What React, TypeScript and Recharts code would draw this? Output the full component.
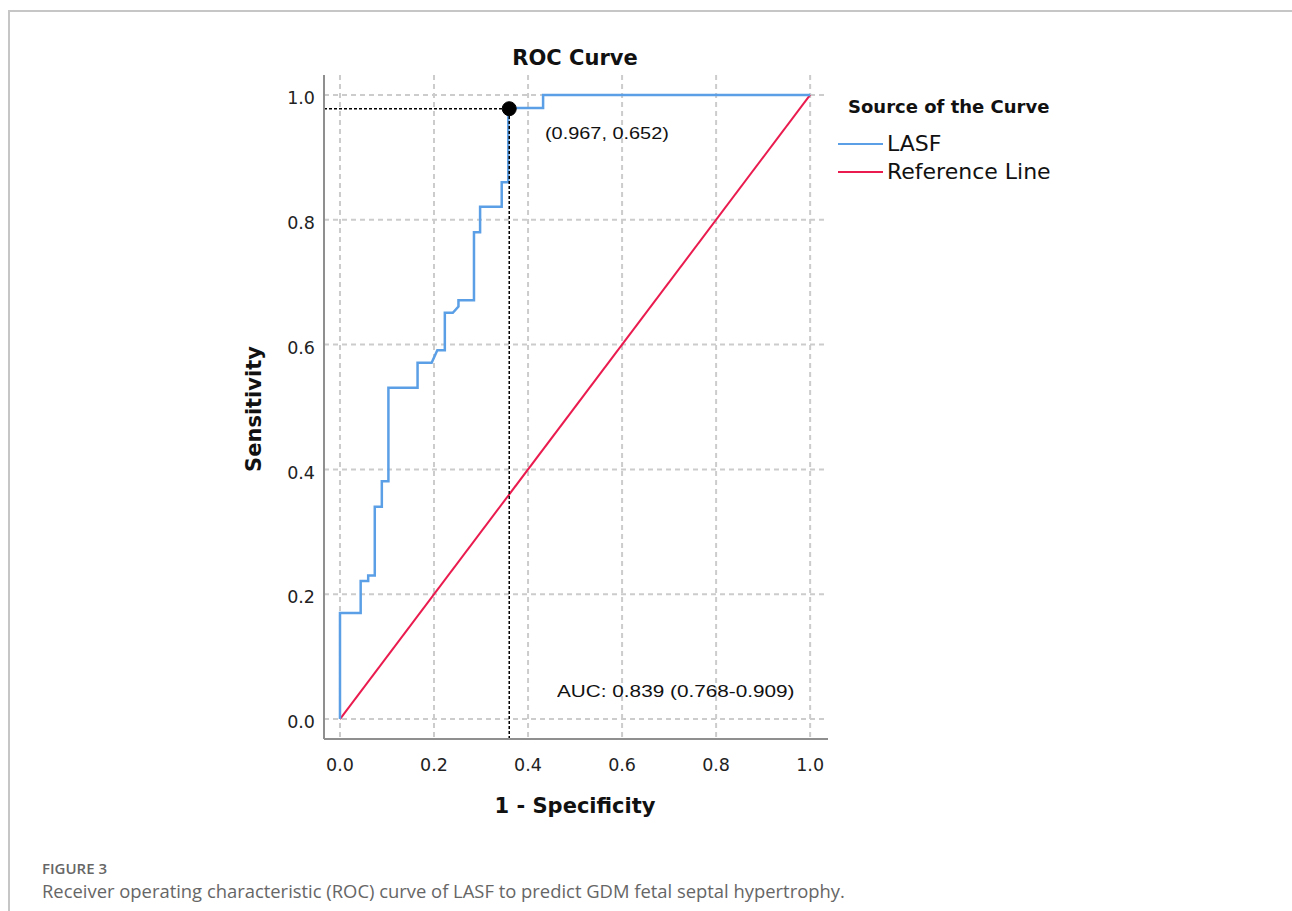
import React from 'react';
import {
  ComposedChart,
  Line,
  XAxis,
  YAxis,
  CartesianGrid,
  ReferenceLine,
  ReferenceDot,
} from 'recharts';

// ROC steps (1 - specificity, sensitivity)
const lasfFpr = [0, 0, 0.044, 0.044, 0.06, 0.06, 0.074, 0.074, 0.089, 0.089, 0.103, 0.103, 0.165, 0.165, 0.195, 0.207, 0.223, 0.223, 0.24, 0.252, 0.252, 0.285, 0.285, 0.298, 0.298, 0.344, 0.344, 0.358, 0.358, 0.432, 0.432, 1.0];
const lasfTpr = [0, 0.17, 0.17, 0.221, 0.221, 0.23, 0.23, 0.34, 0.34, 0.381, 0.381, 0.531, 0.531, 0.571, 0.571, 0.591, 0.591, 0.651, 0.651, 0.661, 0.671, 0.671, 0.78, 0.78, 0.821, 0.821, 0.86, 0.86, 0.979, 0.979, 1.0, 1.0];

const refFpr = [0, 1];
const refTpr = [0, 1];

const ticks = [0, 0.2, 0.4, 0.6, 0.8, 1.0];

const cutoffX = 0.36;
const cutoffY = 0.978;
const cutoffLabel = '(0.967, 0.652)';
const aucLabel = 'AUC: 0.839 (0.768-0.909)';

const X_MIN = -0.034;
const X_MAX = 1.038;
const Y_MIN = -0.032;
const Y_MAX = 1.032;

const lasfData = lasfFpr.map((x, i) => ({ x, y: lasfTpr[i] }));
const refData = refFpr.map((x, i) => ({ x, y: refTpr[i] }));

const BLUE = '#5b9fe6';
const RED = '#ea1b4e';
const spssFont = '"DejaVu Sans", Verdana, sans-serif';
const annFont = '"Liberation Sans", Arial, sans-serif';

const W = 1292;
const H = 911;
const margin = { top: 75, right: 464, bottom: 142, left: 264 };
const Y_AXIS_W = 60;
const X_AXIS_H = 30;

// grid only at the tick positions, not on the plot borders
const plotLeft = margin.left + Y_AXIS_W;
const plotW = W - margin.left - margin.right - Y_AXIS_W;
const plotTop = margin.top;
const plotH = H - margin.top - margin.bottom - X_AXIS_H;
const vPoints = ticks.map((t) => plotLeft + ((t - X_MIN) / (X_MAX - X_MIN)) * plotW);
const hPoints = ticks.map((t) => plotTop + ((Y_MAX - t) / (Y_MAX - Y_MIN)) * plotH);

export default function App() {
  return (
    <div style={{ position: 'absolute', left: 0, top: 0, width: W, height: H, background: '#fff', overflow: 'hidden' }}>
      {/* figure frame */}
      <div style={{ position: 'absolute', left: 9, top: 10, right: 0, height: 2, background: '#c6c6c6' }} />
      <div style={{ position: 'absolute', left: 8, top: 10, width: 2, bottom: 0, background: '#c6c6c6' }} />

      <div style={{ position: 'absolute', left: 0, top: 0 }}>
        <ComposedChart width={W} height={H} margin={margin}>
          <CartesianGrid
            stroke="#cccccc"
            strokeWidth={2}
            strokeDasharray="5 4"
            horizontalPoints={hPoints}
            verticalPoints={vPoints}
          />
          <XAxis
            type="number"
            dataKey="x"
            domain={[X_MIN, X_MAX]}
            ticks={ticks}
            allowDataOverflow
            height={X_AXIS_H}
            tickLine={false}
            tickSize={0}
            tickMargin={20}
            tickFormatter={(v: number) => v.toFixed(1)}
            axisLine={{ stroke: '#8f8f8f', strokeWidth: 2 }}
            tick={{ fill: '#222', fontSize: 17.5, fontFamily: spssFont }}
          />
          <YAxis
            type="number"
            dataKey="y"
            domain={[Y_MIN, Y_MAX]}
            ticks={ticks}
            allowDataOverflow
            width={Y_AXIS_W}
            tickLine={false}
            tickSize={0}
            tickMargin={9}
            tickFormatter={(v: number) => v.toFixed(1)}
            axisLine={{ stroke: '#8f8f8f', strokeWidth: 2 }}
            tick={{ fill: '#222', fontSize: 17.5, fontFamily: spssFont, dy: 3 }}
          />
          <Line data={refData} dataKey="y" type="linear" stroke={RED} strokeWidth={2} dot={false} isAnimationActive={false} />
          <Line data={lasfData} dataKey="y" type="linear" stroke={BLUE} strokeWidth={2.5} dot={false} isAnimationActive={false} />
          <ReferenceLine
            segment={[{ x: X_MIN, y: cutoffY }, { x: cutoffX, y: cutoffY }]}
            stroke="#000"
            strokeWidth={1.5}
            strokeDasharray="3 2"
            ifOverflow="visible"
          />
          <ReferenceLine
            segment={[{ x: cutoffX, y: Y_MIN }, { x: cutoffX, y: cutoffY }]}
            stroke="#000"
            strokeWidth={1.5}
            strokeDasharray="3 2"
            ifOverflow="visible"
          />
          <ReferenceDot x={cutoffX} y={cutoffY} r={7} fill="#000" stroke="#000" ifOverflow="visible" />
        </ComposedChart>
      </div>

      {/* title and axis titles */}
      <div style={{ position: 'absolute', left: 425, width: 300, top: 46, textAlign: 'center', fontFamily: spssFont, fontWeight: 700, fontSize: 21, color: '#111' }}>
        ROC Curve
      </div>
      <div style={{ position: 'absolute', left: 425, width: 300, top: 794, textAlign: 'center', fontFamily: spssFont, fontWeight: 700, fontSize: 21, color: '#111' }}>
        1 - Specificity
      </div>
      <div
        style={{
          position: 'absolute',
          left: 254,
          top: 409,
          transform: 'translate(-50%, -50%) rotate(-90deg)',
          fontFamily: spssFont,
          fontWeight: 700,
          fontSize: 21,
          color: '#111',
          whiteSpace: 'nowrap',
        }}
      >
        Sensitivity
      </div>

      {/* annotations (the source figure is stretched horizontally) */}
      <div style={{ position: 'absolute', left: 545, top: 124, fontFamily: annFont, fontSize: 17, color: '#111', whiteSpace: 'nowrap', transform: 'scaleX(1.17)', transformOrigin: 'left center' }}>
        {cutoffLabel}
      </div>
      <div style={{ position: 'absolute', left: 557, top: 682, fontFamily: annFont, fontSize: 17, color: '#111', whiteSpace: 'nowrap', transform: 'scaleX(1.22)', transformOrigin: 'left center' }}>
        {aucLabel}
      </div>

      {/* legend */}
      <div style={{ position: 'absolute', left: 848, top: 96, fontFamily: spssFont, fontWeight: 700, fontSize: 18, color: '#111', whiteSpace: 'nowrap' }}>
        Source of the Curve
      </div>
      <div style={{ position: 'absolute', left: 838, top: 130, display: 'flex', alignItems: 'center', fontFamily: spssFont, fontSize: 22, color: '#111', lineHeight: '28px', whiteSpace: 'nowrap' }}>
        <span style={{ display: 'inline-block', width: 45, height: 2.5, background: BLUE, marginRight: 4 }} />
        LASF
      </div>
      <div style={{ position: 'absolute', left: 838, top: 158, display: 'flex', alignItems: 'center', fontFamily: spssFont, fontSize: 22, color: '#111', lineHeight: '28px', whiteSpace: 'nowrap' }}>
        <span style={{ display: 'inline-block', width: 45, height: 2.5, background: RED, marginRight: 4 }} />
        Reference Line
      </div>

      {/* caption */}
      <div style={{ position: 'absolute', left: 42, top: 858, fontFamily: '"Open Sans", sans-serif', fontWeight: 600, fontSize: 15, color: '#666' }}>
        FIGURE 3
      </div>
      <div style={{ position: 'absolute', left: 42, top: 878, fontFamily: '"Open Sans", sans-serif', fontSize: 18.4, color: '#666', whiteSpace: 'nowrap' }}>
        Receiver operating characteristic (ROC) curve of LASF to predict GDM fetal septal hypertrophy.
      </div>
    </div>
  );
}
